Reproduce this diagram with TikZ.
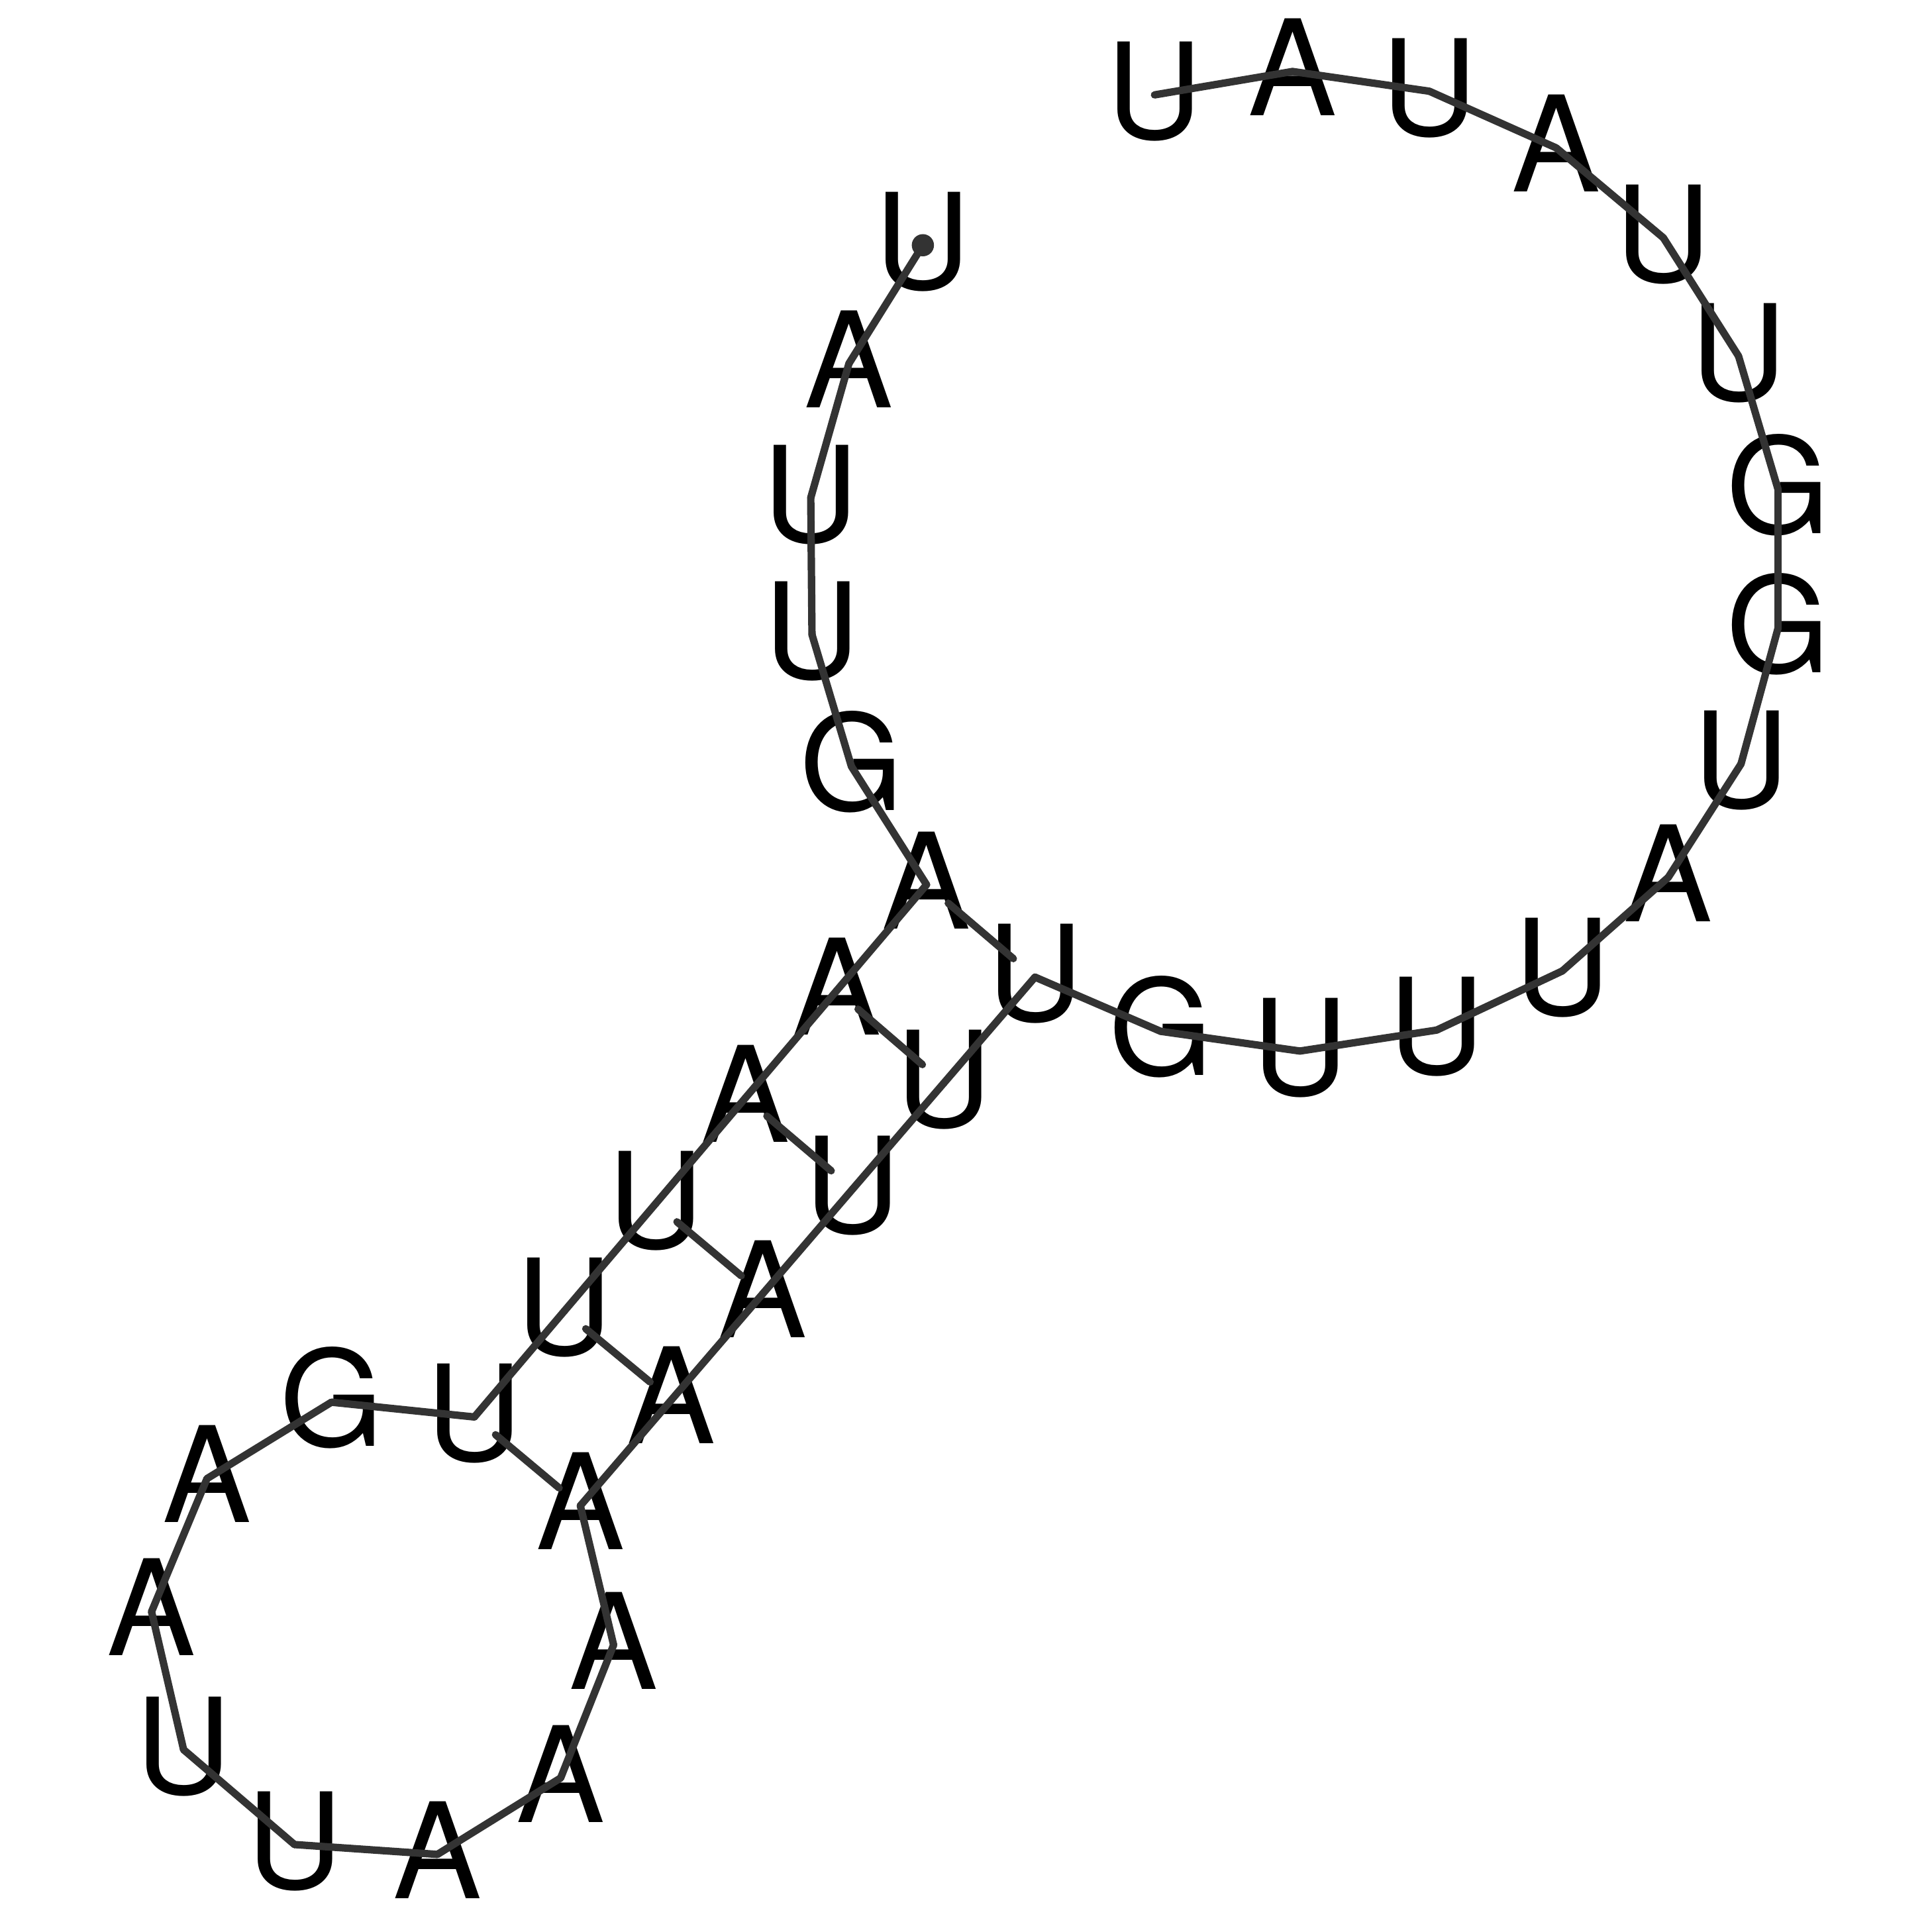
\documentclass[tikz,border=0pt]{standalone}
\usepackage{fontspec}
\setmainfont{TeX Gyre Heros}
\usetikzlibrary{calc}

\tikzset{
  nt/.style={inner sep=0pt, text=black, text height=0.775cm, text depth=0.06cm,
    font=\fontsize{30.7}{31}\selectfont},
  backbone/.style={draw=black!80, line width=0.06cm, line cap=round, line join=round},
  pairline/.style={draw=black!80, line width=0.06cm, line cap=round},
}

\begin{document}
\begin{tikzpicture}[x=0.01cm, y=-0.01cm]
  \useasboundingbox (0,0) rectangle (1568,1568);
  % nucleotides, 5' to 3'
  \foreach \i/\b/\px/\py in {
      1/U/749/199, 2/A/689/295, 3/U/658/404, 4/U/659/515, 5/G/691/622,
      6/A/752/718, 7/A/679/804, 8/A/605/891, 9/U/532/977, 10/U/458/1064,
      11/U/385/1150, 12/G/269/1138, 13/A/168/1200, 14/A/123/1308, 15/U/149/1420,
      16/U/239/1497, 17/A/355/1505, 18/A/455/1443, 19/A/498/1335, 20/A/471/1222,
      21/A/545/1136, 22/A/619/1050, 23/U/692/965, 24/U/766/879, 25/U/840/793,
      26/G/942/837, 27/U/1055/853, 28/U/1166/836, 29/U/1268/788, 30/A/1354/712,
      31/U/1413/620, 32/G/1443/510, 33/G/1443/397, 34/U/1411/289, 35/U/1350/193,
      36/A/1263/120, 37/U/1160/74, 38/A/1049/58, 39/U/937/77}{
    \node[nt] (n\i) at (\px,\py) {\b};
  }
  % backbone
  \foreach \i in {1,...,38}{
    \pgfmathtruncatemacro\j{\i+1}
    \draw[backbone] (n\i.center) -- (n\j.center);
  }
  \fill[black!80] (n1.center) circle[radius=0.09cm];
  % base pairs
  \foreach \a/\b in {6/25, 7/24, 8/23, 9/22, 10/21, 11/20}{
    \draw[pairline] ($(n\a.center)!0.2!(n\b.center)$) -- ($(n\a.center)!0.8!(n\b.center)$);
  }
\end{tikzpicture}
\end{document}
